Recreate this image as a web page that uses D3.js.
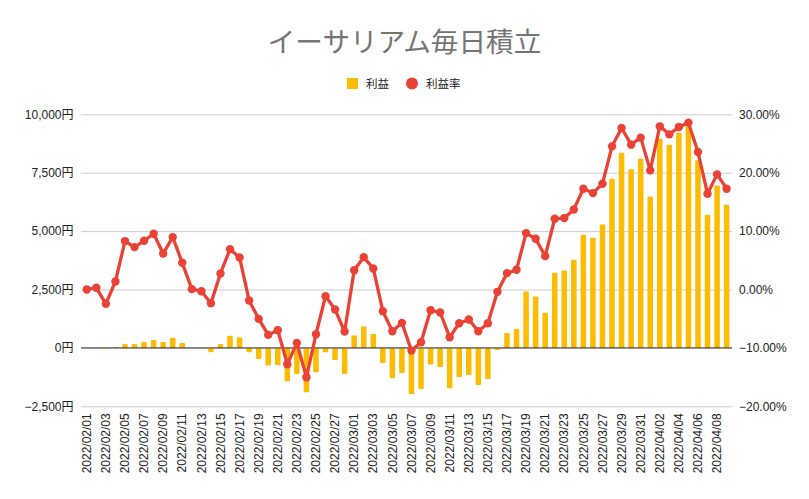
<!DOCTYPE html>
<html>
<head>
<meta charset="utf-8">
<script src="https://cdn.jsdelivr.net/npm/d3@7/dist/d3.min.js"></script>
<style>
  html, body { margin: 0; padding: 0; background: #fff; }
  svg { display: block; }
  text { font-family: "Liberation Sans", Arial, "Noto Sans CJK JP", sans-serif; }
</style>
</head>
<body>
<svg id="chart" width="809" height="499"></svg>
<script>
const title = "イーサリアム毎日積立";
const seriesNames = ["利益", "利益率"];

const dates = [
  "2022/02/01","2022/02/02","2022/02/03","2022/02/04","2022/02/05","2022/02/06","2022/02/07","2022/02/08",
  "2022/02/09","2022/02/10","2022/02/11","2022/02/12","2022/02/13","2022/02/14","2022/02/15","2022/02/16",
  "2022/02/17","2022/02/18","2022/02/19","2022/02/20","2022/02/21","2022/02/22","2022/02/23","2022/02/24",
  "2022/02/25","2022/02/26","2022/02/27","2022/02/28","2022/03/01","2022/03/02","2022/03/03","2022/03/04",
  "2022/03/05","2022/03/06","2022/03/07","2022/03/08","2022/03/09","2022/03/10","2022/03/11","2022/03/12",
  "2022/03/13","2022/03/14","2022/03/15","2022/03/16","2022/03/17","2022/03/18","2022/03/19","2022/03/20",
  "2022/03/21","2022/03/22","2022/03/23","2022/03/24","2022/03/25","2022/03/26","2022/03/27","2022/03/28",
  "2022/03/29","2022/03/30","2022/03/31","2022/04/01","2022/04/02","2022/04/03","2022/04/04","2022/04/05",
  "2022/04/06","2022/04/07","2022/04/08","2022/04/09"
];

// 利益 (円)
const profit = [
  0, 10, -40, 30, 170, 170, 257, 343, 257, 430, 214, 0, 0, -186, 170, 520,
  440, -186, -471, -757, -729, -1443, -1114, -1900, -1043, -186, -514, -1114, 529, 914, 600, -643,
  -1300, -1071, -1971, -1757, -714, -814, -1729, -1243, -1157, -1586, -1329, -86, 643, 814, 2415, 2200,
  1500, 3215, 3315, 3772, 4843, 4715, 5286, 7243, 8357, 7643, 8100, 6486, 8957, 8700, 9214, 9486,
  8029, 5700, 6957, 6129
];

// 利益率 (%)
const rate = [
  0.0, 0.29, -2.46, 1.37, 8.29, 7.26, 8.34, 9.54, 6.17, 8.97, 4.57, 0.06, -0.29, -2.34, 2.74, 6.91,
  5.49, -1.89, -5.03, -7.77, -6.97, -12.8, -9.14, -15.03, -7.66, -1.14, -3.43, -7.2, 3.31, 5.54, 3.6, -3.71,
  -7.14, -5.71, -10.46, -9.03, -3.54, -3.94, -8.17, -5.77, -5.14, -7.14, -5.77, -0.4, 2.8, 3.37, 9.66, 8.69,
  5.71, 12.11, 12.23, 13.71, 17.26, 16.51, 18.11, 24.51, 27.66, 24.8, 26.0, 20.4, 27.94, 26.57, 27.83, 28.57,
  23.54, 16.4, 19.71, 17.26
];

const leftTicks = [-2500, 0, 2500, 5000, 7500, 10000];
const rightTicks = [-20, -10, 0, 10, 20, 30];

const svg = d3.select("#chart");
const plot = { left: 81, right: 732, top: 114.3, bottom: 406.3 };

const x = d3.scaleBand().domain(dates).range([82, 731.4]).paddingInner(0.42).paddingOuter(0.21);
const yL = d3.scaleLinear().domain([-2500, 10000]).range([plot.bottom, plot.top]);
const yR = d3.scaleLinear().domain([-20, 30]).range([plot.bottom, plot.top]);
const cx = d => x(d) + x.bandwidth() / 2;

// Title
svg.append("text")
  .attr("x", 404.5).attr("y", 52)
  .attr("text-anchor", "middle")
  .style("font-family", "'Noto Sans CJK JP', sans-serif")
  .style("font-size", "27.6px")
  .attr("fill", "#757575")
  .text(title);

// Legend
const lg = svg.append("g").style("font-family", "'Noto Sans CJK JP', sans-serif").style("font-size", "11.5px");
lg.append("rect").attr("x", 347).attr("y", 78).attr("width", 11).attr("height", 11).attr("fill", "#fbbc04");
lg.append("text").attr("x", 366).attr("y", 87.5).attr("fill", "#222").text(seriesNames[0]);
lg.append("circle").attr("cx", 412).attr("cy", 83.5).attr("r", 6).attr("fill", "#ea4335");
lg.append("text").attr("x", 426).attr("y", 87.5).attr("fill", "#222").text(seriesNames[1]);

// Left axis + gridlines
const axL = svg.append("g").attr("transform", `translate(${plot.left},0)`)
  .call(d3.axisLeft(yL).tickValues(leftTicks).tickSize(-(plot.right - plot.left)).tickPadding(7.5)
    .tickFormat(d => d3.format(",")(d) + "円"));
axL.select(".domain").remove();
axL.selectAll(".tick line").attr("stroke", "#cccccc").attr("stroke-width", 1);
axL.selectAll(".tick text").attr("fill", "#222").style("font-size", "12px")
  .style("font-family", "'Liberation Sans', Arial, 'Noto Sans CJK JP', sans-serif");

// Right axis
const axR = svg.append("g").attr("transform", `translate(${plot.right},0)`)
  .call(d3.axisRight(yR).tickValues(rightTicks).tickSize(0).tickPadding(7)
    .tickFormat(d => d3.format(".2f")(d) + "%"));
axR.select(".domain").remove();
axR.selectAll(".tick text").attr("fill", "#222").style("font-size", "12px");

// Bars
svg.append("g").selectAll("rect").data(dates).join("rect")
  .attr("x", d => x(d))
  .attr("width", x.bandwidth())
  .attr("y", (d, i) => Math.min(yL(profit[i]), yL(0)))
  .attr("height", (d, i) => Math.abs(yL(profit[i]) - yL(0)))
  .attr("rx", 1)
  .attr("fill", "#fbbc04");

// Zero baseline
svg.append("line")
  .attr("x1", plot.left).attr("x2", plot.right)
  .attr("y1", yL(0)).attr("y2", yL(0))
  .attr("stroke", "#333").attr("stroke-width", 1);

// Line
const line = d3.line().x((d, i) => cx(dates[i])).y(d => yR(d));
svg.append("path").datum(rate)
  .attr("d", line)
  .attr("fill", "none")
  .attr("stroke", "#ea4335")
  .attr("stroke-width", 3.3)
  .attr("stroke-linejoin", "round");
svg.append("g").selectAll("circle").data(rate).join("circle")
  .attr("cx", (d, i) => cx(dates[i]))
  .attr("cy", d => yR(d))
  .attr("r", 4.2)
  .attr("fill", "#ea4335");

// X axis labels
const xTicks = dates.filter((d, i) => i % 2 === 0);
const axX = svg.append("g").attr("transform", `translate(0,${plot.bottom})`)
  .call(d3.axisBottom(x).tickValues(xTicks).tickSize(0).tickPadding(0));
axX.select(".domain").remove();
axX.selectAll(".tick text")
  .attr("fill", "#222")
  .style("font-size", "12px")
  .attr("text-anchor", "end")
  .attr("transform", "rotate(-90)")
  .attr("x", -7)
  .attr("y", 0)
  .attr("dy", "0.35em");
</script>
</body>
</html>
